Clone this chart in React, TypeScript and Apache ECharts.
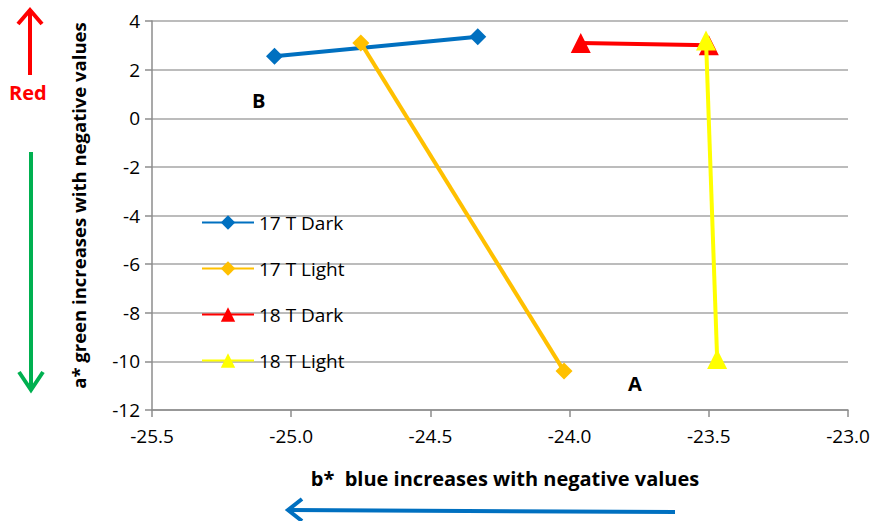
import React, { useEffect, useRef } from "react";
import * as echarts from "echarts";

const seriesNames = ["17 T Dark", "17 T Light", "18 T Dark", "18 T Light"];
const dark17: number[][] = [[-25.06, 2.55], [-24.33, 3.35]];
const light17: number[][] = [[-24.75, 3.1], [-24.02, -10.4]];
const dark18: number[][] = [[-23.96, 3.1], [-23.5, 3.0]];
const light18: number[][] = [[-23.51, 3.2], [-23.47, -9.9]];
const colors = ["#0070C0", "#FFC000", "#FF0000", "#FFFF00"];
const symbols = ["diamond", "diamond", "triangle", "triangle"];

const FONT = "'Open Sans', 'Liberation Sans', sans-serif";

export default function App() {
  const ref = useRef<HTMLDivElement>(null);
  useEffect(() => {
    document.body.style.margin = "0";
    const chart = echarts.init(ref.current!, null, { renderer: "svg" });
    const datas = [dark17, light17, dark18, light18];
    chart.setOption({
      animation: false,
      textStyle: { fontFamily: FONT },
      grid: { left: 152, right: 29, top: 21, bottom: 111 },
      legend: {
        orient: "vertical",
        left: 196,
        top: 208,
        itemGap: 27,
        itemWidth: 52,
        itemHeight: 18,
        textStyle: { fontSize: 19, color: "#000", fontFamily: FONT },
        data: seriesNames,
      },
      xAxis: {
        type: "value",
        min: -25.5,
        max: -23,
        interval: 0.5,
        axisLine: { show: true, onZero: false, lineStyle: { color: "#8c8c8c", width: 1.5 } },
        axisTick: { show: true, length: 7, lineStyle: { color: "#8c8c8c", width: 1.5 } },
        axisLabel: {
          fontSize: 19,
          color: "#000",
          margin: 16,
          formatter: (v: number) => v.toFixed(1),
        },
        splitLine: { show: false },
        name: "b*  blue increases with negative values",
        nameLocation: "middle",
        nameGap: 58,
        nameTextStyle: { fontSize: 20, fontWeight: "bold", color: "#000", padding: [0, 0, 0, 10] },
      },
      yAxis: {
        type: "value",
        min: -12,
        max: 4,
        interval: 2,
        axisLine: { show: true, onZero: false, lineStyle: { color: "#8c8c8c", width: 1.5 } },
        axisTick: { show: true, length: 7, lineStyle: { color: "#8c8c8c", width: 1.5 } },
        axisLabel: { fontSize: 19, color: "#000", margin: 12 },
        splitLine: { show: true, lineStyle: { color: "#a6a6a6", width: 1.5 } },
        name: "a* green increases with negative values",
        nameLocation: "middle",
        nameGap: 64,
        nameTextStyle: { fontSize: 18.5, fontWeight: "bold", color: "#000", padding: [0, 0, 0, 20] },
      },
      series: seriesNames.map((n, i) => ({
        name: n,
        type: "line",
        data: datas[i],
        symbol: symbols[i],
        symbolSize: symbols[i] === "diamond" ? 17 : 20,
        showSymbol: true,
        lineStyle: { color: colors[i], width: 4 },
        itemStyle: { color: colors[i] },
        z: 3 + i,
      })),
      graphic: [
        { type: "text", left: 252, top: 90, style: { text: "B", fontSize: 20, fontWeight: "bold", fill: "#000", fontFamily: FONT } },
        { type: "text", left: 628, top: 373, style: { text: "A", fontSize: 20, fontWeight: "bold", fill: "#000", fontFamily: FONT } },
        { type: "text", left: 9, top: 82, style: { text: "Red", fontSize: 20, fontWeight: "bold", fill: "#FF0000", fontFamily: FONT } },
        { type: "line", shape: { x1: 30, y1: 75, x2: 30, y2: 11 }, style: { stroke: "#FF0000", lineWidth: 4 } },
        { type: "polyline", shape: { points: [[18, 24], [30, 10], [42, 24]] }, style: { stroke: "#FF0000", lineWidth: 4, fill: null } },
        { type: "line", shape: { x1: 31, y1: 152, x2: 31, y2: 388 }, style: { stroke: "#00B050", lineWidth: 4 } },
        { type: "polyline", shape: { points: [[19, 372], [31, 390], [43, 372]] }, style: { stroke: "#00B050", lineWidth: 4, fill: null } },
        { type: "line", shape: { x1: 675, y1: 512, x2: 290, y2: 510 }, style: { stroke: "#0070C0", lineWidth: 4 } },
        { type: "polyline", shape: { points: [[302, 499], [288, 510], [302, 521]] }, style: { stroke: "#0070C0", lineWidth: 4, fill: null } },
      ],
    });
    return () => chart.dispose();
  }, []);
  return <div ref={ref} style={{ width: 877, height: 521, background: "#fff" }} />;
}
